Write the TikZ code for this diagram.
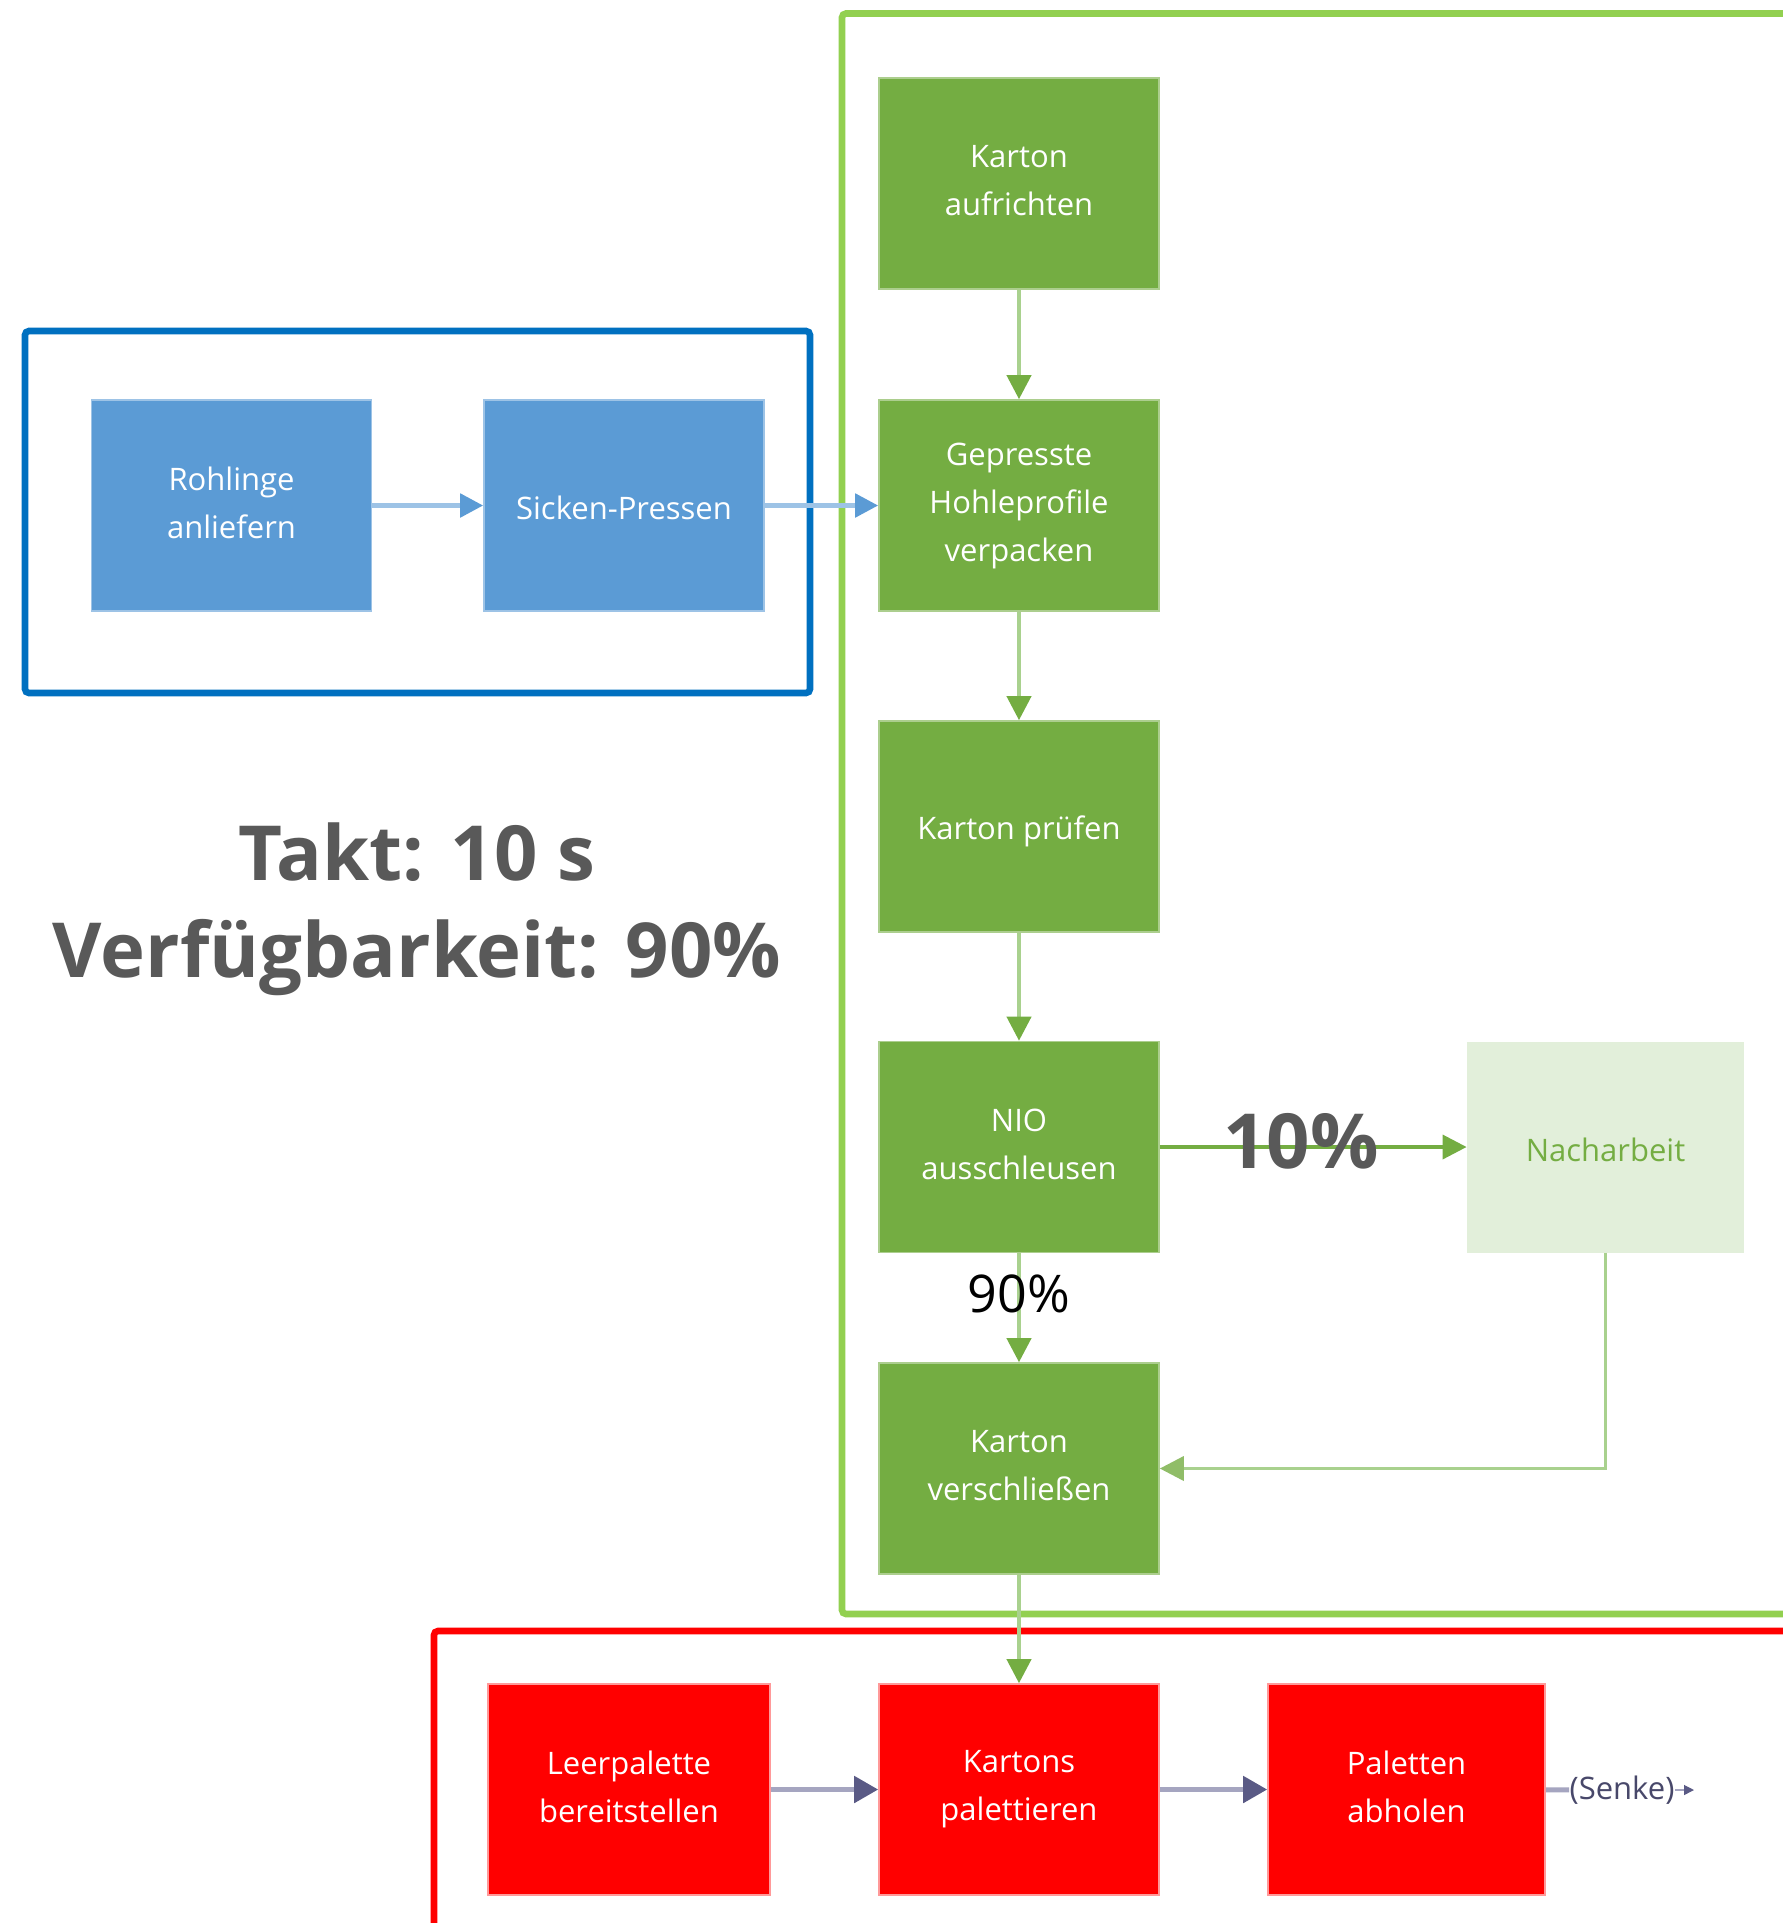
\documentclass[tikz,border=0pt]{standalone}
\usepackage{fontspec}
\setmainfont{Open Sans}
\usetikzlibrary{arrows.meta}
\definecolor{bluebox}{HTML}{5B9BD5}
\definecolor{blueframe}{HTML}{0070C0}
\definecolor{bluearrow}{HTML}{9DC3E6}
\definecolor{greenbox}{HTML}{74AD42}
\definecolor{greenframe}{HTML}{92D050}
\definecolor{greenline}{HTML}{A9D18E}
\definecolor{greenlight}{HTML}{E2EFDA}
\definecolor{redbox}{HTML}{FF0000}
\definecolor{redline}{HTML}{A5A5C0}
\definecolor{redhead}{HTML}{5A5A85}
\definecolor{graytext}{HTML}{595959}
\newcommand\boxstrut{\rule[-3pt]{0pt}{20pt}}
\tikzset{
  procbox/.style={minimum width=140pt, minimum height=105.5pt, inner sep=0pt, align=center,
    font=\fontsize{15.5}{24}\selectfont, text=white,
    execute at begin node={\boxstrut}, execute at end node={\boxstrut}},
  bluestep/.style={procbox, fill=bluebox, draw=bluebox!60!white, line width=0.8pt},
  greenstep/.style={procbox, fill=greenbox, draw=greenbox!60!white, line width=0.8pt},
  redstep/.style={procbox, fill=redbox, draw=redbox!40!white, line width=0.8pt},
  lightstep/.style={procbox, fill=greenlight, text=greenbox},
  blueflow/.style={draw=bluearrow, line width=2.5pt, -{Triangle[length=11.5pt,width=11.5pt,color=bluebox]}},
  greenflow/.style={draw=greenline, line width=2pt, -{Triangle[length=12pt,width=12pt,color=greenbox]}},
  redflow/.style={draw=redline, line width=2.5pt, -{Triangle[length=12pt,width=13pt,color=redhead]}},
  frame/.style={line width=3.3pt, rounded corners=2pt},
}
\begin{document}
\begin{tikzpicture}[x=0.5pt,y=-0.5pt]
\clip (0,0) rectangle (1783,1923);
\fill[white] (0,0) rectangle (1783,1923);

% frames
\draw[frame, draw=blueframe] (25,331) rectangle (810,693);
\draw[frame, draw=greenframe] (842,13.5) rectangle (1810,1614);
\draw[frame, draw=redbox] (434,1631) rectangle (1810,1960);

% nodes
\node[bluestep] (roh) at (231.5,505.5) {Rohlinge\\anliefern};
\node[bluestep] (sick) at (624,505.5) {Sicken-Pressen};
\node[greenstep] (aufr) at (1019,183.5) {Karton\\aufrichten};
\node[greenstep] (gepr) at (1019,505.5) {Gepresste\\Hohleprofile\\verpacken};
\node[greenstep] (pruef) at (1019,826.5) {Karton prüfen};
\node[greenstep] (nio) at (1019,1147) {NIO\\ausschleusen};
\node[lightstep, minimum width=138.5pt] (nach) at (1605.5,1147) {Nacharbeit};
\node[greenstep] (schl) at (1019,1468.5) {Karton\\verschließen};
\node[redstep, minimum width=141pt] (leer) at (629,1789.5) {Leerpalette\\bereitstellen};
\node[redstep] (kart) at (1019,1789.5) {Kartons\\palettieren};
\node[redstep, minimum width=138.5pt] (pal) at (1406.5,1789.5) {Paletten\\abholen};
\node[inner sep=0pt, font=\fontsize{15.5}{24}\selectfont, text=redhead!80!black] (senke) at (1622,1790) {(Senke)};
\coordinate (senkeend) at (1694,1790);

\node[align=center, text=graytext, font=\fontsize{38}{48.5}\selectfont\bfseries] (takt) at (417,909) {Takt: 10 s\\Verfügbarkeit: 90\%};

% connectors
\draw[blueflow] (roh) -- (sick);
\draw[blueflow] (sick) -- (gepr);
\draw[greenflow] (aufr) -- (gepr);
\draw[greenflow] (gepr) -- (pruef);
\draw[greenflow] (pruef) -- (nio);
\draw[greenflow] (nio) -- node[fill=none, text=black, font=\fontsize{26}{30}\selectfont, pos=0.32, yshift=-3pt] (p90) {90\%} (schl);
\draw[draw=greenbox, line width=1.8pt, -{Triangle[length=12pt,width=12pt,color=greenbox]}] (nio) -- node[text=graytext, font=\fontsize{38}{40}\selectfont\bfseries, pos=0.46, yshift=3pt] (p10) {10\%} (nach);
\draw[draw=greenline, line width=1.8pt, -{Triangle[length=12pt,width=12pt,color=greenbox!80!white]}] (nach.south) |- (schl.east);
\draw[greenflow] (schl) -- (kart);
\draw[redflow] (leer) -- (kart);
\draw[redflow] (kart) -- (pal);
\draw[draw=redline, line width=2.5pt] (pal) -- (senke);
\draw[draw=redline, line width=0.6pt, -{Triangle[length=5pt,width=5pt,color=redhead]}] (senke.east) -- (senkeend);
\end{tikzpicture}
\end{document}
